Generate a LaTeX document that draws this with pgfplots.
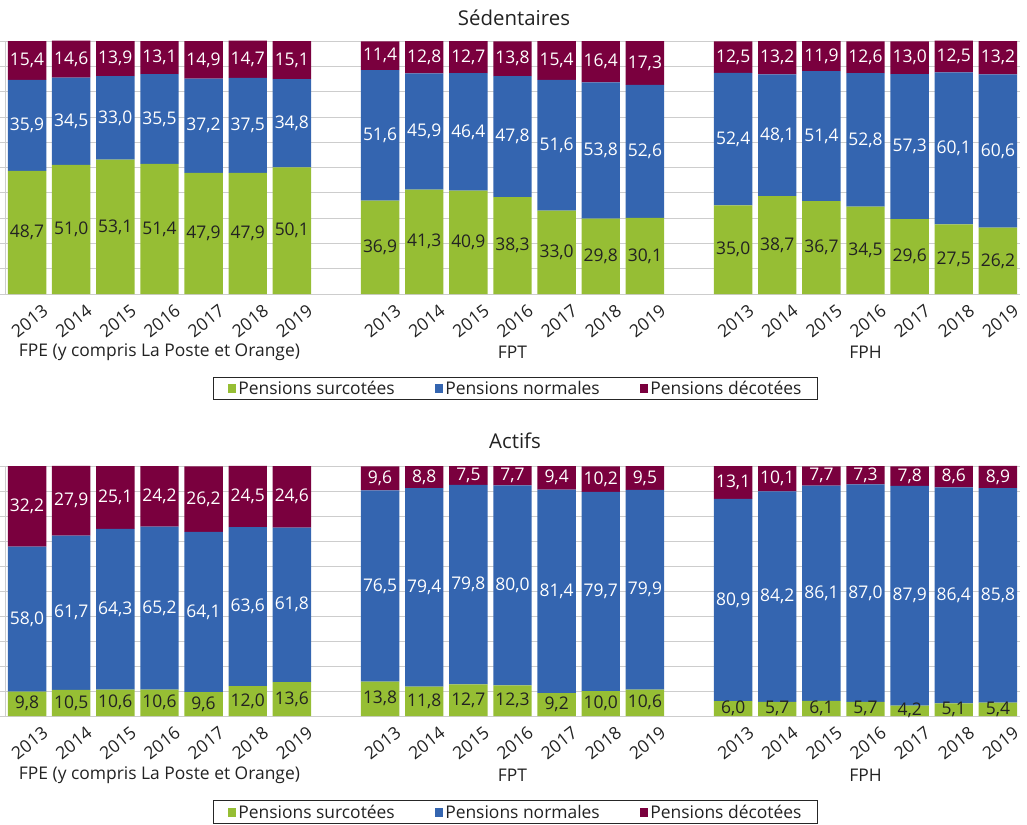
\documentclass[border=0pt]{standalone}
\usepackage{pgfplots}
\pgfplotsset{compat=1.18}
\usepackage{pgfplotstable}
\usepackage{fontspec}
\setmainfont{Open Sans}
\definecolor{cg}{RGB}{150,190,52}
\definecolor{cb}{RGB}{52,101,176}
\definecolor{cm}{RGB}{122,0,62}
\definecolor{gridc}{RGB}{205,205,205}
\definecolor{txt}{RGB}{34,34,34}

\pgfplotstableread{
x g b m
0 48.7 35.9 15.4
1 51.0 34.5 14.6
2 53.1 33.0 13.9
3 51.4 35.5 13.1
4 47.9 37.2 14.9
5 47.9 37.5 14.7
6 50.1 34.8 15.1
8 36.9 51.6 11.4
9 41.3 45.9 12.8
10 40.9 46.4 12.7
11 38.3 47.8 13.8
12 33.0 51.6 15.4
13 29.8 53.8 16.4
14 30.1 52.6 17.3
16 35.0 52.4 12.5
17 38.7 48.1 13.2
18 36.7 51.4 11.9
19 34.5 52.8 12.6
20 29.6 57.3 13.0
21 27.5 60.1 12.5
22 26.2 60.6 13.2
}\sed

\pgfplotstableread{
x g b m
0 9.8 58.0 32.2
1 10.5 61.7 27.9
2 10.6 64.3 25.1
3 10.6 65.2 24.2
4 9.6 64.1 26.2
5 12.0 63.6 24.5
6 13.6 61.8 24.6
8 13.8 76.5 9.6
9 11.8 79.4 8.8
10 12.7 79.8 7.5
11 12.3 80.0 7.7
12 9.2 81.4 9.4
13 10.0 79.7 10.2
14 10.6 79.9 9.5
16 6.0 80.9 13.1
17 5.7 84.2 10.1
18 6.1 86.1 7.7
19 5.7 87.0 7.3
20 4.2 87.9 7.8
21 5.1 86.4 8.6
22 5.4 85.8 8.9
}\act

\newcommand{\lblfont}{\fontsize{17.5}{19}\selectfont}
\pgfplotsset{
  base/.style={
    scale only axis, width=1015bp,
    xmin=-0.5, xmax=22.5, ymin=0, ymax=100,
    clip=false,
  },
  barpanel/.style={
    base,
    ybar stacked, bar width=0.87,
    axis lines=left, axis line style={-, draw=gridc, line width=0.8bp},
    ytick={0,10,...,100}, yticklabels={},
    ymajorgrids, grid style={draw=gridc, line width=0.8bp},
    ytick style={draw=gridc, line width=0.8bp},
    major tick length=5bp, tick align=outside,
    xtick={0,1,2,3,4,5,6,8,9,10,11,12,13,14,16,17,18,19,20,21,22},
    xticklabels={2013,2014,2015,2016,2017,2018,2019,2013,2014,2015,2016,2017,2018,2019,2013,2014,2015,2016,2017,2018,2019},
    xtick style={draw=none},
    xticklabel style={font=\lblfont, text=txt, yshift=-22bp, xshift=2.5bp, rotate=38, anchor=center, inner sep=0pt},
    legend columns=3,
    legend cell align=left,
    legend image code/.code={\fill[##1] (0bp,-4.5bp) rectangle (8.5bp,4.5bp);},
    legend style={at={(0.5031,#1)}, anchor=center, draw=black!85, line width=0.9bp,
      font=\lblfont, text=txt, inner xsep=14bp, inner ysep=2bp,
      /tikz/every even column/.append style={column sep=38bp},
      /tikz/every odd column/.append style={column sep=0bp}},
  },
  labpanel/.style={
    base, hide axis,
    nodes near coords={\pgfmathprintnumber[fixed, fixed zerofill, precision=1, use comma, assume math mode=true]{\pgfplotspointmeta}},
    every node near coord/.append style={anchor=center, font=\lblfont, inner sep=0pt},
  },
}

\begin{document}
\begin{tikzpicture}
\useasboundingbox (0,0) rectangle (1027bp,-825bp);

\node[font=\fontsize{20.5}{22}\selectfont, text=txt] at (514bp,-18bp) {Sédentaires};
\node[font=\fontsize{20.5}{22}\selectfont, text=txt] at (515bp,-441bp) {Actifs};

% ---------- Sedentaires ----------
\begin{axis}[barpanel=-0.3735, height=253bp, at={(5bp,-41bp)}, anchor=north west]
\addplot[fill=cg, draw=none] table[x=x, y=g] {\sed};
\addplot[fill=cb, draw=none] table[x=x, y=b] {\sed};
\addplot[fill=cm, draw=none] table[x=x, y=m] {\sed};
\legend{Pensions surcotées, Pensions normales, Pensions décotées}
\node[font=\lblfont, text=txt] at (axis cs:3,0) [yshift=-58bp] {FPE (y compris La Poste et Orange)};
\node[font=\lblfont, text=txt] at (axis cs:11,0) [yshift=-58bp] {FPT};
\node[font=\lblfont, text=txt] at (axis cs:19,0) [yshift=-58bp] {FPH};
\end{axis}
\begin{axis}[labpanel, height=253bp, at={(5bp,-41bp)}, anchor=north west]
\addplot[draw=none, mark=none, point meta=explicit, every node near coord/.append style={text=txt}] table[x=x, y expr=\thisrow{g}/2, meta=g] {\sed};
\addplot[draw=none, mark=none, point meta=explicit, every node near coord/.append style={text=white}] table[x=x, y expr=\thisrow{g}+\thisrow{b}/2, meta=b] {\sed};
\addplot[draw=none, mark=none, point meta=explicit, every node near coord/.append style={text=white}] table[x=x, y expr=\thisrow{g}+\thisrow{b}+\thisrow{m}/2, meta=m] {\sed};
\end{axis}

% ---------- Actifs ----------
\begin{axis}[barpanel=-0.385, height=250bp, at={(5bp,-466bp)}, anchor=north west]
\addplot[fill=cg, draw=none] table[x=x, y=g] {\act};
\addplot[fill=cb, draw=none] table[x=x, y=b] {\act};
\addplot[fill=cm, draw=none] table[x=x, y=m] {\act};
\legend{Pensions surcotées, Pensions normales, Pensions décotées}
\node[font=\lblfont, text=txt] at (axis cs:3,0) [yshift=-59bp] {FPE (y compris La Poste et Orange)};
\node[font=\lblfont, text=txt] at (axis cs:11,0) [yshift=-59bp] {FPT};
\node[font=\lblfont, text=txt] at (axis cs:19,0) [yshift=-59bp] {FPH};
\end{axis}
\begin{axis}[labpanel, height=250bp, at={(5bp,-466bp)}, anchor=north west]
\addplot[draw=none, mark=none, point meta=explicit, every node near coord/.append style={text=txt}] table[x=x, y expr=\thisrow{g}/2, meta=g] {\act};
\addplot[draw=none, mark=none, point meta=explicit, every node near coord/.append style={text=white}] table[x=x, y expr=\thisrow{g}+\thisrow{b}/2, meta=b] {\act};
\addplot[draw=none, mark=none, point meta=explicit, every node near coord/.append style={text=white}] table[x=x, y expr=\thisrow{g}+\thisrow{b}+\thisrow{m}/2, meta=m] {\act};
\end{axis}
\end{tikzpicture}
\end{document}
